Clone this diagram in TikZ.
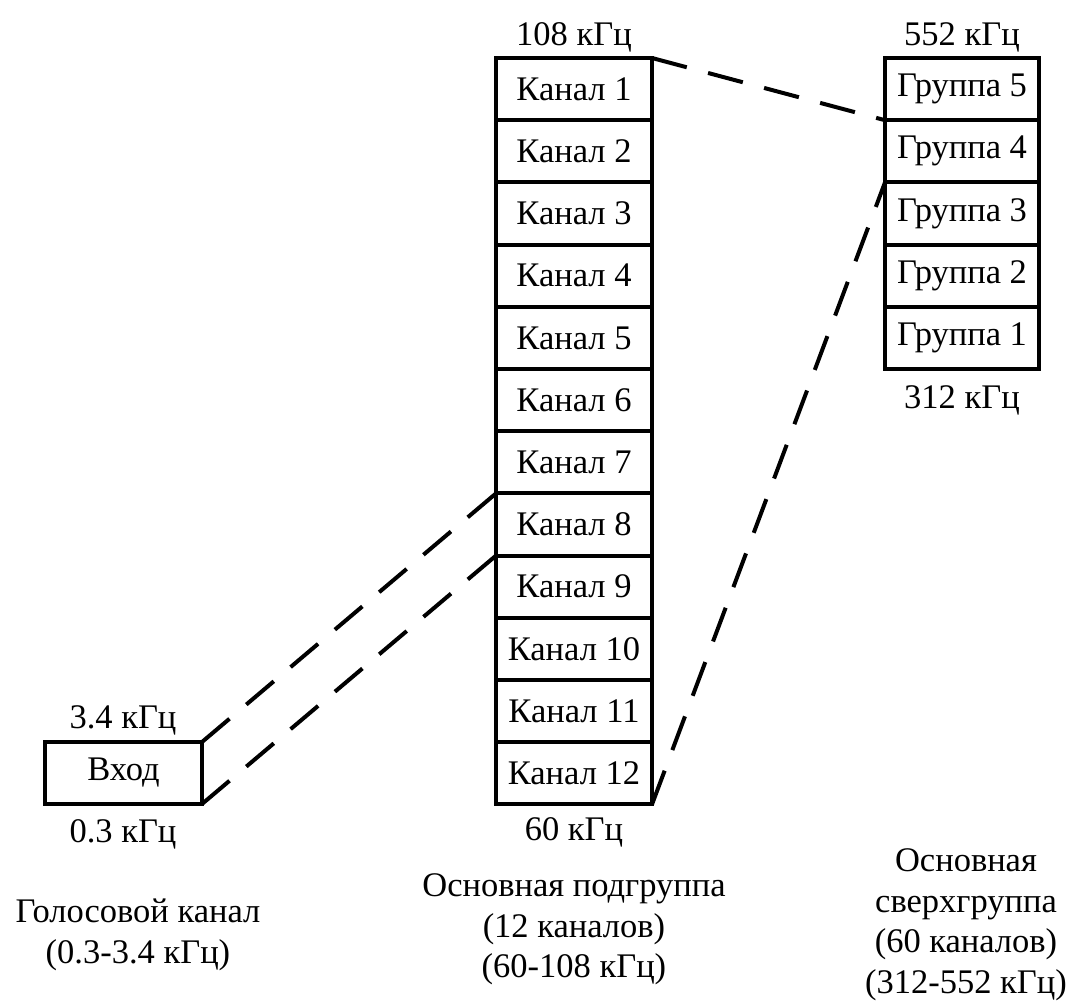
\documentclass[tikz,border=0pt]{standalone}
\usepackage{fontspec}
\setmainfont{Liberation Serif}
\tikzset{
  cell/.style={draw, line width=4pt, minimum width=156pt, minimum height=62.2pt, inner sep=0pt, outer sep=0pt},
  freq/.style={anchor=base, inner sep=0pt},
  caption/.style={align=center, inner sep=0pt},
  link/.style={line width=4pt, dash pattern=on 36pt off 22pt},
}
\begin{document}
\begin{tikzpicture}[x=1pt, y=-1pt, font=\fontsize{34.5}{40.5}\selectfont]
    \useasboundingbox (0,0) rectangle (1072,1002);

    % Main subgroup
    \foreach \i in {1,...,12}
        \node[cell] (k\i) at (574, 26.9+62.2*\i) {Канал \i};

    % Supergroup
    \foreach \i in {1,...,5}
        \node[cell, minimum width=154pt] (g\i) at (962, 400.1-62.2*\i) {Группа \i};

    % Voice channel
    \node[cell, minimum width=157pt, minimum height=62pt] (vhod) at (123.5, 773) {Вход};

    % Band edges
    \node[freq] (f108) at (574, 45) {108 кГц};
    \node[freq] (f60) at (574, 840) {60 кГц};
    \node[freq] (f552) at (962, 45) {552 кГц};
    \node[freq] (f312) at (962, 408) {312 кГц};
    \node[freq] (f34) at (123, 728) {3.4 кГц};
    \node[freq] (f03) at (123, 842) {0.3 кГц};

    % Captions
    \node[caption] (cvoice) at (138, 934.7) {Голосовой канал\\(0.3-3.4 кГц)};
    \node[caption] (csub) at (574, 929.4) {Основная подгруппа\\(12 каналов)\\(60-108 кГц)};
    \node[caption] (csuper) at (966, 924.5) {Основная\\сверхгруппа\\(60 каналов)\\(312-552 кГц)};

    % Links
    \draw[link] (k1.north east) -- (g5.south west);
    \draw[link] (k12.south east) -- (g4.south west);
    \draw[link] (vhod.north east) -- (k7.south west);
    \draw[link] (vhod.south east) -- (k8.south west);
\end{tikzpicture}
\end{document}
